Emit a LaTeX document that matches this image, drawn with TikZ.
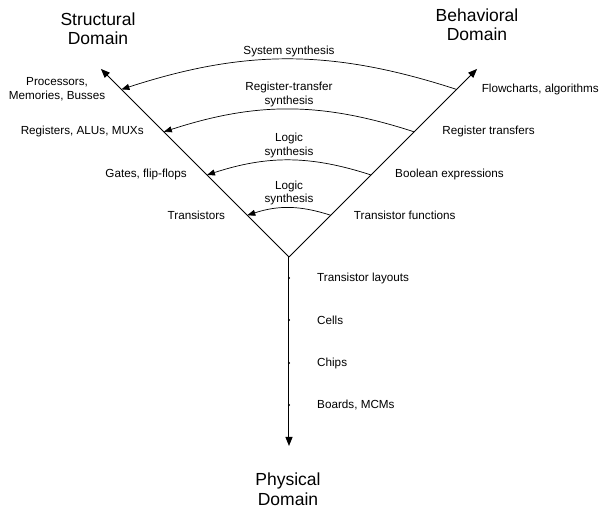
\documentclass[tikz,border=0pt]{standalone}
\usepackage{fontspec}
\setmainfont{Liberation Sans}
\usetikzlibrary{
  arrows.meta, % For arrow tips
  positioning % For label placement
}

\begin{document}
\begin{tikzpicture}[
    x=1pt, y=1pt,
    axis/.style={line width=1pt, -{Triangle[length=9pt, width=7pt]}}, % Style for the domain axes
    synth/.style={line width=0.7pt, -{Triangle[length=8pt, width=6pt]}}, % Style for synthesis arcs
    level/.style={font=\fontsize{11.7}{13.5}\selectfont, align=center, inner sep=2pt}, % Style for level texts
    domaintitle/.style={font=\fontsize{17.5}{19.5}\selectfont, align=center}, % Style for domain titles
  ]
  \useasboundingbox (-289,-253) rectangle (316,257);

  \def\ax{266}

  % Ursprung und Achsen
  \coordinate (o) at (0,0);
  \coordinate (s) at (135:\ax);
  \coordinate (b) at (45:\ax);
  \coordinate (p) at (0,-189);
  \draw[axis] (o) -- (s);
  \draw[axis] (o) -- (b);
  \draw[axis] (o) -- (p);

  % Punkte auf der Struktur- und Verhaltensachse
  \coordinate (s1) at (135:237);
  \coordinate (s2) at (135:177);
  \coordinate (s3) at (135:116);
  \coordinate (s4) at (135:59);
  \coordinate (b1) at (45:237);
  \coordinate (b2) at (45:177);
  \coordinate (b3) at (45:116);
  \coordinate (b4) at (45:59);

  % Punkte auf der physikalischen Achse
  \coordinate (t1) at (0,-21);
  \coordinate (t2) at (0,-63);
  \coordinate (t3) at (0,-106);
  \coordinate (t4) at (0,-148);
  \fill (t1) circle (1.2pt);
  \fill (t2) circle (1.2pt);
  \fill (t3) circle (1.2pt);
  \fill (t4) circle (1.2pt);

  % Syntheseboegen
  \draw[synth] (b1) to[bend right=18] node[midway, above, level] (sys) {System synthesis} (s1);
  \draw[synth] (b2) to[bend right=18] node[midway, above, level] (rts) {Register-transfer\\synthesis} (s2);
  \draw[synth] (b3) to[bend right=18] node[midway, above, level] (ls1) {Logic\\synthesis} (s3);
  \draw[synth] (b4) to[bend right=18] node[midway, above, level] (ls2) {Logic\\synthesis} (s4);

  % Strukturelle Ebenen
  \node[level, left=14pt of s1] (proc) {Processors,\\Memories, Busses};
  \node[level, left=18pt of s2] (regs) {Registers, ALUs, MUXs};
  \node[level, left=18pt of s3] (gates) {Gates, flip-flops};
  \node[level, left=20pt of s4] (trans) {Transistors};

  % Verhaltensebenen
  \node[level, right=23pt of b1] (flow) {Flowcharts, algorithms};
  \node[level, right=26pt of b2] (rtr) {Register transfers};
  \node[level, right=22pt of b3] (bool) {Boolean expressions};
  \node[level, right=21pt of b4] (tfun) {Transistor functions};

  % Physikalische Ebenen
  \node[level, right=26pt of t1] (lay) {Transistor layouts};
  \node[level, right=26pt of t2] (cells) {Cells};
  \node[level, right=26pt of t3] (chips) {Chips};
  \node[level, right=26pt of t4] (boards) {Boards, MCMs};

  % Domaenen
  \node[domaintitle] (sd) at (-191,228) {Structural\\Domain};
  \node[domaintitle] (bd) at (188,232) {Behavioral\\Domain};
  \node[domaintitle] (pd) at (-1,-232) {Physical\\Domain};

\end{tikzpicture}
\end{document}
